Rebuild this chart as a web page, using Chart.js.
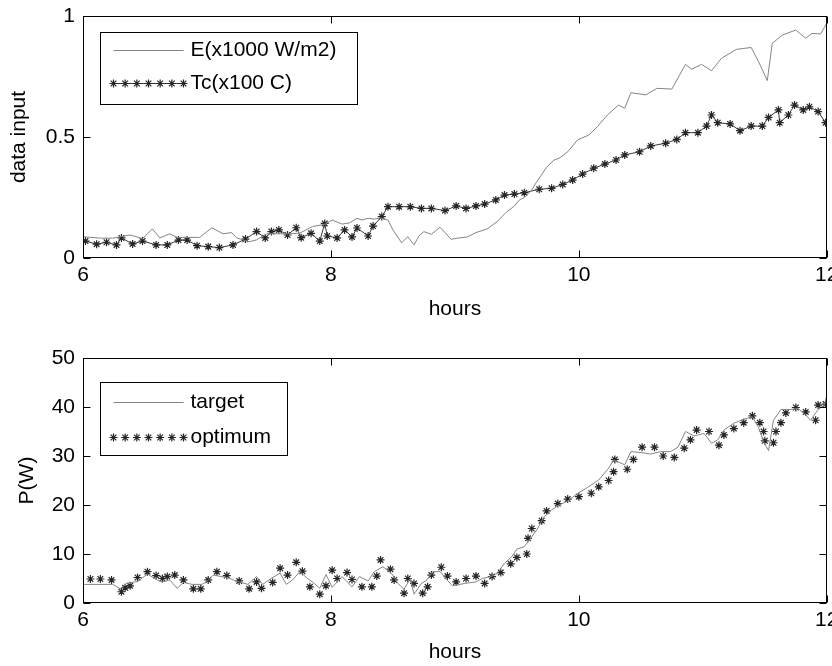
<!DOCTYPE html>
<html>
<head>
<meta charset="utf-8">
<script src="https://cdn.jsdelivr.net/npm/chart.js@4.4.1/dist/chart.umd.min.js"></script>
<style>
  html, body { margin: 0; padding: 0; background: #fff; }
  #wrap { width: 832px; height: 666px; }
  canvas { display: block; }
</style>
</head>
<body>
<div id="wrap">
  <canvas id="topChart" width="832" height="333"></canvas>
  <canvas id="bottomChart" width="832" height="333"></canvas>
</div>
<script>
// top panel: irradiance E (x1000 W/m2) and cell temperature Tc (x100 C)
const eHours = [6.00,6.14,6.24,6.38,6.48,6.56,6.62,6.70,6.76,6.94,7.04,7.13,7.20,7.24,7.34,7.40,7.48,7.59,7.67,7.75,
  7.85,7.95,8.01,8.09,8.15,8.21,8.25,8.30,8.35,8.40,8.46,8.50,8.57,8.62,8.67,8.71,8.75,8.81,8.88,8.92,
  8.97,9.02,9.10,9.17,9.26,9.34,9.41,9.48,9.52,9.56,9.62,9.66,9.74,9.80,9.84,9.91,9.99,10.08,10.15,10.23,
  10.32,10.37,10.42,10.54,10.63,10.75,10.86,10.91,10.99,11.07,11.15,11.27,11.39,11.45,11.52,11.56,11.64,11.75,11.83,11.88,
  11.95,12.00];
const eValues = [0.088,0.082,0.082,0.095,0.08,0.12,0.083,0.10,0.085,0.085,0.125,0.10,0.105,0.083,0.067,0.075,0.10,0.10,0.10,0.103,
  0.13,0.139,0.157,0.14,0.145,0.164,0.157,0.164,0.161,0.165,0.157,0.116,0.063,0.088,0.054,0.091,0.109,0.098,0.127,0.105,
  0.077,0.082,0.087,0.105,0.12,0.15,0.187,0.215,0.24,0.25,0.281,0.315,0.375,0.405,0.412,0.439,0.488,0.508,0.543,0.591,
  0.632,0.619,0.683,0.674,0.701,0.698,0.80,0.78,0.80,0.774,0.825,0.862,0.87,0.811,0.733,0.887,0.921,0.942,0.908,0.928,
  0.926,0.97];

const tcHours = [6.02,6.11,6.19,6.27,6.31,6.40,6.48,6.59,6.68,6.77,6.84,6.92,7.01,7.10,7.21,7.31,7.40,7.47,7.52,7.58,
  7.65,7.72,7.76,7.84,7.91,7.95,7.97,8.05,8.11,8.17,8.21,8.30,8.34,8.41,8.46,8.55,8.64,8.73,8.81,8.92,
  9.01,9.09,9.17,9.24,9.33,9.40,9.48,9.56,9.68,9.78,9.87,9.95,10.03,10.12,10.21,10.30,10.37,10.49,10.58,10.70,
  10.79,10.86,10.96,11.03,11.07,11.12,11.22,11.30,11.39,11.48,11.53,11.61,11.62,11.69,11.74,11.81,11.86,11.93,11.99];
const tcValues = [0.07,0.057,0.065,0.054,0.083,0.058,0.07,0.054,0.054,0.074,0.074,0.051,0.047,0.043,0.054,0.078,0.109,0.083,0.109,0.116,
  0.095,0.125,0.084,0.102,0.07,0.143,0.091,0.083,0.116,0.087,0.124,0.091,0.132,0.171,0.212,0.212,0.212,0.205,0.205,0.196,
  0.215,0.205,0.215,0.223,0.24,0.26,0.264,0.27,0.284,0.288,0.304,0.322,0.347,0.371,0.388,0.405,0.426,0.439,0.463,0.474,
  0.49,0.518,0.518,0.545,0.591,0.559,0.554,0.526,0.545,0.545,0.581,0.612,0.559,0.591,0.632,0.612,0.625,0.605,0.559];

// bottom panel: power P(W), target vs optimum
const targetHours = [6.00,6.24,6.30,6.35,6.44,6.52,6.60,6.64,6.70,6.76,6.81,6.88,6.96,7.00,7.05,7.16,7.26,7.33,7.40,7.45,
  7.51,7.59,7.64,7.69,7.75,7.81,7.85,7.91,7.96,8.01,8.09,8.17,8.23,8.30,8.35,8.42,8.49,8.54,8.59,8.64,
  8.67,8.73,8.77,8.82,8.88,8.94,8.98,9.08,9.17,9.22,9.29,9.34,9.40,9.46,9.50,9.56,9.62,9.66,9.72,9.78,
  9.84,9.91,9.99,10.04,10.16,10.24,10.28,10.37,10.42,10.50,10.58,10.66,10.74,10.80,10.86,10.93,11.01,11.07,11.12,11.17,
  11.25,11.33,11.40,11.45,11.49,11.53,11.57,11.63,11.71,11.77,11.82,11.87,11.93,11.98,12.00];
const targetValues = [3.8,3.8,2.9,4.0,4.4,5.9,4.7,4.3,4.7,3.0,4.2,3.8,3.8,4.4,5.7,5.2,4.3,3.8,5.4,3.8,
  4.9,6.1,3.8,4.7,6.4,5.0,4.3,3.0,5.8,3.2,5.4,3.3,5.4,4.5,6.4,7.4,6.0,4.0,2.8,5.0,
  1.8,4.0,4.6,6.4,6.4,4.6,3.5,4.0,4.3,5.0,5.4,6.0,8.1,9.5,11.0,11.5,13.5,14.9,17.6,19.0,
  20.0,20.8,22.4,23.1,25.1,27.5,29.2,28.2,30.9,30.7,30.4,30.9,30.9,31.8,35.0,34.1,34.6,32.6,33.3,35.3,
  36.7,37.5,38.0,35.8,32.9,31.1,37.3,39.5,39.5,39.7,38.6,37.3,39.5,40.4,42.4];

const optHours = [6.06,6.14,6.23,6.31,6.34,6.38,6.44,6.52,6.59,6.64,6.68,6.74,6.81,6.89,6.95,7.01,7.08,7.16,7.26,7.34,
  7.40,7.44,7.53,7.59,7.65,7.72,7.77,7.83,7.91,7.96,8.01,8.05,8.13,8.17,8.25,8.33,8.37,8.40,8.48,8.51,
  8.59,8.62,8.67,8.74,8.78,8.81,8.89,8.94,9.01,9.09,9.17,9.24,9.30,9.37,9.45,9.50,9.58,9.59,9.62,9.70,
  9.74,9.83,9.91,10.00,10.10,10.16,10.24,10.28,10.29,10.39,10.44,10.51,10.61,10.68,10.77,10.85,10.90,10.95,11.05,11.13,
  11.17,11.25,11.33,11.40,11.46,11.49,11.50,11.57,11.59,11.63,11.67,11.75,11.83,11.91,11.93,11.99];
const optValues = [4.9,4.9,4.7,2.3,3.1,3.5,5.2,6.4,5.6,5.0,5.4,5.7,4.7,2.9,2.9,4.7,6.4,5.6,4.5,2.9,
  4.3,3.0,4.2,7.1,5.7,8.3,6.5,3.3,1.8,3.5,6.7,5.0,6.2,4.8,3.3,3.3,5.5,8.8,6.9,4.7,
  2.0,5.0,4.0,2.0,3.3,5.7,7.3,5.5,4.3,5.0,5.5,4.0,5.4,6.2,8.0,9.3,10.0,13.2,15.2,16.8,
  18.8,20.3,21.2,21.7,22.4,23.7,25.0,26.8,29.3,27.3,29.3,31.8,31.8,30.0,29.7,31.6,33.3,35.3,35.0,32.2,
  34.3,35.6,36.8,38.2,36.8,35.0,33.1,32.7,35.0,36.8,38.8,39.9,39.0,37.3,40.4,40.6];

const LINE_GREY = "#858585";
const TC_LINE = "#3a3a3a";
const STAR_DARK = "#262626";
const STAR_RADIUS = 4;
const STAR_WIDTH = 1.2;

Chart.defaults.font.family = '"Liberation Sans", Arial, sans-serif';
Chart.defaults.font.size = 21;
Chart.defaults.color = "#000";

function pairs(xs, ys) {
  return xs.map((x, i) => ({ x, y: ys[i] }));
}

// matlab style box with inward ticks on all four sides + legend box
const matlabFrame = {
  id: "matlabFrame",
  afterDraw(chart, args, opts) {
    const { ctx, chartArea: a } = chart;
    const xs = chart.scales.x;
    const ys = chart.scales.y;
    const L = Math.round(a.left) + 0.5;
    const R = Math.round(a.right) - 0.5;
    const T = Math.round(a.top) + 0.5;
    const B = Math.round(a.bottom) - 0.5;
    const tick = 7;

    ctx.save();
    ctx.strokeStyle = "#000";
    ctx.lineWidth = 1;
    ctx.strokeRect(L, T, R - L, B - T);
    ctx.beginPath();
    xs.ticks.forEach((t) => {
      const p = Math.round(xs.getPixelForValue(t.value)) + 0.5;
      ctx.moveTo(p, B); ctx.lineTo(p, B - tick);
      ctx.moveTo(p, T); ctx.lineTo(p, T + tick);
    });
    ys.ticks.forEach((t) => {
      const p = Math.round(ys.getPixelForValue(t.value)) + 0.5;
      ctx.moveTo(L, p); ctx.lineTo(L + tick, p);
      ctx.moveTo(R, p); ctx.lineTo(R - tick, p);
    });
    ctx.stroke();

    // legend
    const box = opts.box;
    const bx = Math.round(a.left + box.dx) + 0.5;
    const by = Math.round(a.top + box.dy) + 0.5;
    ctx.fillStyle = "#fff";
    ctx.fillRect(bx, by, box.w, box.h);
    ctx.strokeStyle = "#000";
    ctx.strokeRect(bx, by, box.w, box.h);

    const x0 = bx + 13;
    const x1 = bx + 83;
    opts.rows.forEach((row) => {
      const y = by + row.dy;
      if (row.line) {
        ctx.beginPath();
        ctx.strokeStyle = row.line;
        ctx.lineWidth = 1;
        ctx.moveTo(x0, y); ctx.lineTo(x1, y);
        ctx.stroke();
      }
      if (row.stars) {
        ctx.strokeStyle = STAR_DARK;
        ctx.lineWidth = STAR_WIDTH;
        const step = (x1 - x0) / (row.stars - 1);
        for (let i = 0; i < row.stars; i++) {
          Chart.helpers.drawPoint(ctx, {
            pointStyle: "star", radius: STAR_RADIUS, borderWidth: STAR_WIDTH,
          }, x0 + i * step, y);
        }
      }
      ctx.fillStyle = "#000";
      ctx.font = '21px "Liberation Sans", Arial, sans-serif';
      ctx.textAlign = "left";
      ctx.textBaseline = "middle";
      ctx.fillText(row.label, x1 + 7, y);
    });
    ctx.restore();
  },
};

function xAxis(height, titleBottom) {
  return {
    type: "linear",
    min: 6,
    max: 12,
    grid: { display: false, drawTicks: false },
    border: { display: false },
    ticks: { stepSize: 2, padding: 5, autoSkip: false, maxRotation: 0, color: "#000" },
    title: { display: true, text: "hours", color: "#000", padding: { top: 0, bottom: titleBottom } },
    afterFit(scale) {
      scale.height = height;
      scale.paddingLeft = 0;
      scale.paddingRight = 0;
    },
  };
}

function yAxis(min, max, step, label, titleTop) {
  return {
    type: "linear",
    min,
    max,
    grid: { display: false, drawTicks: false },
    border: { display: false },
    ticks: { stepSize: step, padding: 8, color: "#000", callback: (v) => String(v) },
    title: { display: true, text: label, color: "#000", padding: { top: titleTop, bottom: 0 } },
    afterFit(scale) {
      scale.width = 83;
      scale.paddingTop = 0;
      scale.paddingBottom = 0;
    },
  };
}

const common = {
  responsive: false,
  animation: false,
  devicePixelRatio: 1,
  events: [],
};

new Chart(document.getElementById("topChart"), {
  type: "scatter",
  data: {
    datasets: [
      {
        label: "E(x1000 W/m2)",
        data: pairs(eHours, eValues),
        showLine: true,
        borderColor: LINE_GREY,
        borderWidth: 1,
        pointRadius: 0,
      },
      {
        label: "Tc(x100 C)",
        data: pairs(tcHours, tcValues),
        showLine: true,
        borderColor: TC_LINE,
        borderWidth: 1,
        pointStyle: "star",
        pointRadius: STAR_RADIUS,
        pointBorderWidth: STAR_WIDTH,
        pointBorderColor: STAR_DARK,
      },
    ],
  },
  options: {
    ...common,
    layout: { padding: { top: 16, right: 4, left: 0, bottom: 0 } },
    scales: {
      x: xAxis(75, 11),
      y: yAxis(0, 1, 0.5, "data input", 7),
    },
    plugins: {
      legend: { display: false },
      tooltip: { enabled: false },
      matlabFrame: {
        box: { dx: 17, dy: 16, w: 257, h: 72 },
        rows: [
          { label: "E(x1000 W/m2)", dy: 18, line: LINE_GREY },
          { label: "Tc(x100 C)", dy: 51, line: TC_LINE, stars: 7 },
        ],
      },
    },
  },
  plugins: [matlabFrame],
});

new Chart(document.getElementById("bottomChart"), {
  type: "scatter",
  data: {
    datasets: [
      {
        label: "target",
        data: pairs(targetHours, targetValues),
        showLine: true,
        borderColor: LINE_GREY,
        borderWidth: 1,
        pointRadius: 0,
      },
      {
        label: "optimum",
        data: pairs(optHours, optValues),
        showLine: false,
        pointStyle: "star",
        pointRadius: STAR_RADIUS,
        pointBorderWidth: STAR_WIDTH,
        pointBorderColor: STAR_DARK,
      },
    ],
  },
  options: {
    ...common,
    layout: { padding: { top: 25, right: 4, left: 0, bottom: 0 } },
    scales: {
      x: xAxis(63, 1),
      y: yAxis(0, 50, 10, "P(W)", 15),
    },
    plugins: {
      legend: { display: false },
      tooltip: { enabled: false },
      matlabFrame: {
        box: { dx: 17, dy: 24, w: 187, h: 73 },
        rows: [
          { label: "target", dy: 20, line: LINE_GREY },
          { label: "optimum", dy: 55, stars: 7 },
        ],
      },
    },
  },
  plugins: [matlabFrame],
});
</script>
</body>
</html>
